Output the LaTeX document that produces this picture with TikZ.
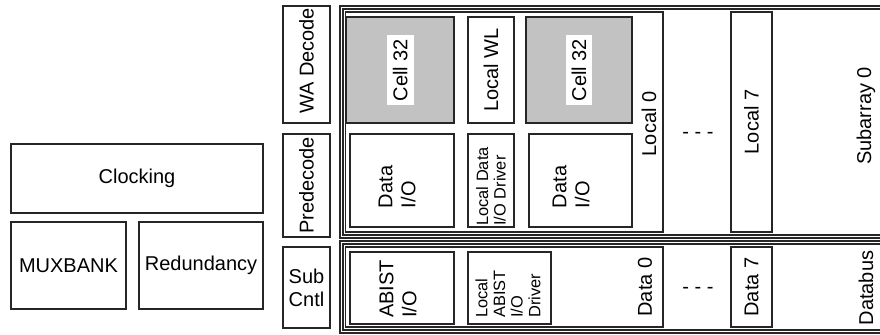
\documentclass[tikz,border=0pt]{standalone}
\usepackage{fontspec}
\setmainfont{Liberation Sans}
\usetikzlibrary{fit}
\tikzset{
  bx/.style={draw=black!85, line width=0.6pt, inner sep=0pt},
  dbl/.style={draw=black!85, line width=0.6pt, double, double distance=0.9pt, inner sep=0pt},
  lbl/.style={font=\fontsize{10}{11.5}\selectfont, inner sep=1pt},
  rlbl/.style={lbl, rotate=90},
  rlbl2/.style={lbl, rotate=90, align=left},
  wlbl/.style={lbl, rotate=90, fill=white, inner xsep=2pt, inner ysep=3pt},
  small/.style={font=\fontsize{8.2}{8.8}\selectfont, rotate=90, align=left, inner sep=0pt},
  cell/.style={bx, fill=gray!48},
}
\begin{document}
\begin{tikzpicture}[x=0.5pt,y=-0.5pt]
\useasboundingbox (0,0) rectangle (880,335);
\clip (0,0) rectangle (880,335);
% left blocks
\node[bx, fit={(11,144)(263,213)}] (clk) {};
\node[lbl] (clkt) at (clk.center) {Clocking};
\node[bx, fit={(11,222)(126,309)}] (mux) {};
\node[lbl] (muxt) at (mux.center) {MUXBANK};
\node[bx, fit={(139,222)(263,309)}] (red) {};
\node[lbl] (redt) at (red.center) {Redundancy};
% decode column
\node[bx, fit={(283,6)(330,123)}] (wa) {};
\node[rlbl] (wat) at (306.5,61) {WA Decode};
\node[bx, fit={(283,134)(330,237)}] (pre) {};
\node[rlbl] (pret) at (pre.center) {Predecode};
\node[bx, fit={(283,247)(330,328)}] (sc) {};
\node[lbl, align=center] (sct) at (sc.center) {Sub\\Cntl};
% subarray
\node[dbl, fit={(341.5,7.5)(890,236.5)}] (sa) {};
\node[rlbl] (sat) at (866,116) {Subarray 0};
\node[bx, fit={(345.5,12)(663,232)}] (l0) {};
\node[rlbl] (l0t) at (649,124) {Local 0};
\node[cell, fit={(346.5,17)(454,123)}] (ca) {};
\node[wlbl] (cat) at (ca.center) {Cell 32};
\node[bx, fit={(468,17)(514,123)}] (lwl) {};
\node[rlbl] (lwlt) at (lwl.center) {Local WL};
\node[cell, fit={(526,17)(632,123)}] (cb) {};
\node[wlbl] (cbt) at (cb.center) {Cell 32};
\node[bx, fit={(350,134)(454,227)}] (dioa) {};
\node[rlbl2] (dioat) at (397,187) {Data\\I/O};
\node[bx, fit={(468,134)(514,227)}] (ldd) {};
\node[small, anchor=west] (lddt) at (491,226) {Local Data\\I/O Driver};
\node[bx, fit={(529,134)(632,227)}] (diob) {};
\node[rlbl2] (diobt) at (571,187) {Data\\I/O};
\node[lbl] (dots1) at (698,135) {- - -};
\node[bx, fit={(731,12)(772,232)}] (l7) {};
\node[rlbl] (l7t) at (l7.center) {Local 7};
% databus
\node[dbl, fit={(341.5,242.5)(890,331.5)}] (dbus) {};
\node[rlbl] (dbust) at (866,288) {Databus};
\node[bx, fit={(345.5,247)(663,327)}] (d0) {};
\node[rlbl] (d0t) at (645,287) {Data 0};
\node[bx, fit={(350,252)(454,324)}] (abio) {};
\node[rlbl2] (abiot) at (398,289) {ABIST\\I/O};
\node[bx, fit={(468,252)(551,324)}] (lab) {};
\node[small, anchor=west] (labt) at (508,318) {Local\\ABIST\\I/O\\Driver};
\node[lbl] (dots2) at (698,290) {- - -};
\node[bx, fit={(731,247)(772,327)}] (d7) {};
\node[rlbl] (d7t) at (d7.center) {Data 7};
\end{tikzpicture}
\end{document}
